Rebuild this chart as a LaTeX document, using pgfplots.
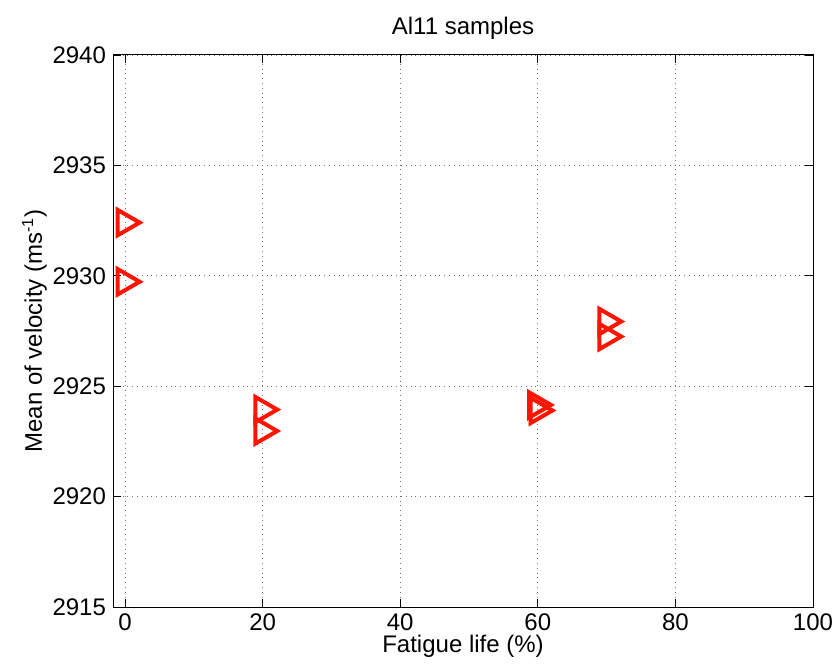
\documentclass[border=0pt]{standalone}
\usepackage{fontspec}
\setmainfont{Liberation Sans}
\usepackage{pgfplots}
\pgfplotsset{compat=1.18}
\definecolor{mred}{RGB}{255,20,0}
\begin{document}
\begin{tikzpicture}
\begin{axis}[
  scale only axis,
  width=350pt, height=276pt,
  xmin=-1.75, xmax=100,
  ymin=2915, ymax=2940,
  xtick={0,20,40,60,80,100},
  ytick={2915,2920,2925,2930,2935,2940},
  /pgf/number format/assume math mode=true,
  /pgf/number format/1000 sep={},
  tick label style={font=\fontsize{12}{14}\selectfont},
  label style={font=\fontsize{12}{14}\selectfont},
  title style={font=\fontsize{12}{14}\selectfont, yshift=-2pt},
  title={Al11 samples},
  xlabel={Fatigue life (\%)},
  ylabel={Mean of velocity (ms\textsuperscript{-1})},
  xlabel style={yshift=5pt},
  ylabel style={yshift=-4pt},
  grid=major,
  major grid style={dotted, black!55, line width=0.4pt},
  tick align=inside,
  major tick length=4pt,
  axis line style={black, line width=0.5pt},
  every tick/.style={black, line width=0.4pt},
  clip=false,
]
\addplot[only marks, mark=triangle, mark size=7.3pt,
  mark options={rotate=-90, draw=mred, fill=none, line width=2pt}]
  coordinates {
  (0,2932.41) (0,2929.73)
  (20,2923.94) (20,2922.97)
  (59.8,2924.15) (60,2923.9)
  (70,2927.93) (70,2927.25)
  };
\end{axis}
\pgfresetboundingbox
\path ([shift={(-56.5pt,-30.5pt)}]current axis.south west) rectangle ([shift={(12pt,27.5pt)}]current axis.north east);
\end{tikzpicture}
\end{document}
